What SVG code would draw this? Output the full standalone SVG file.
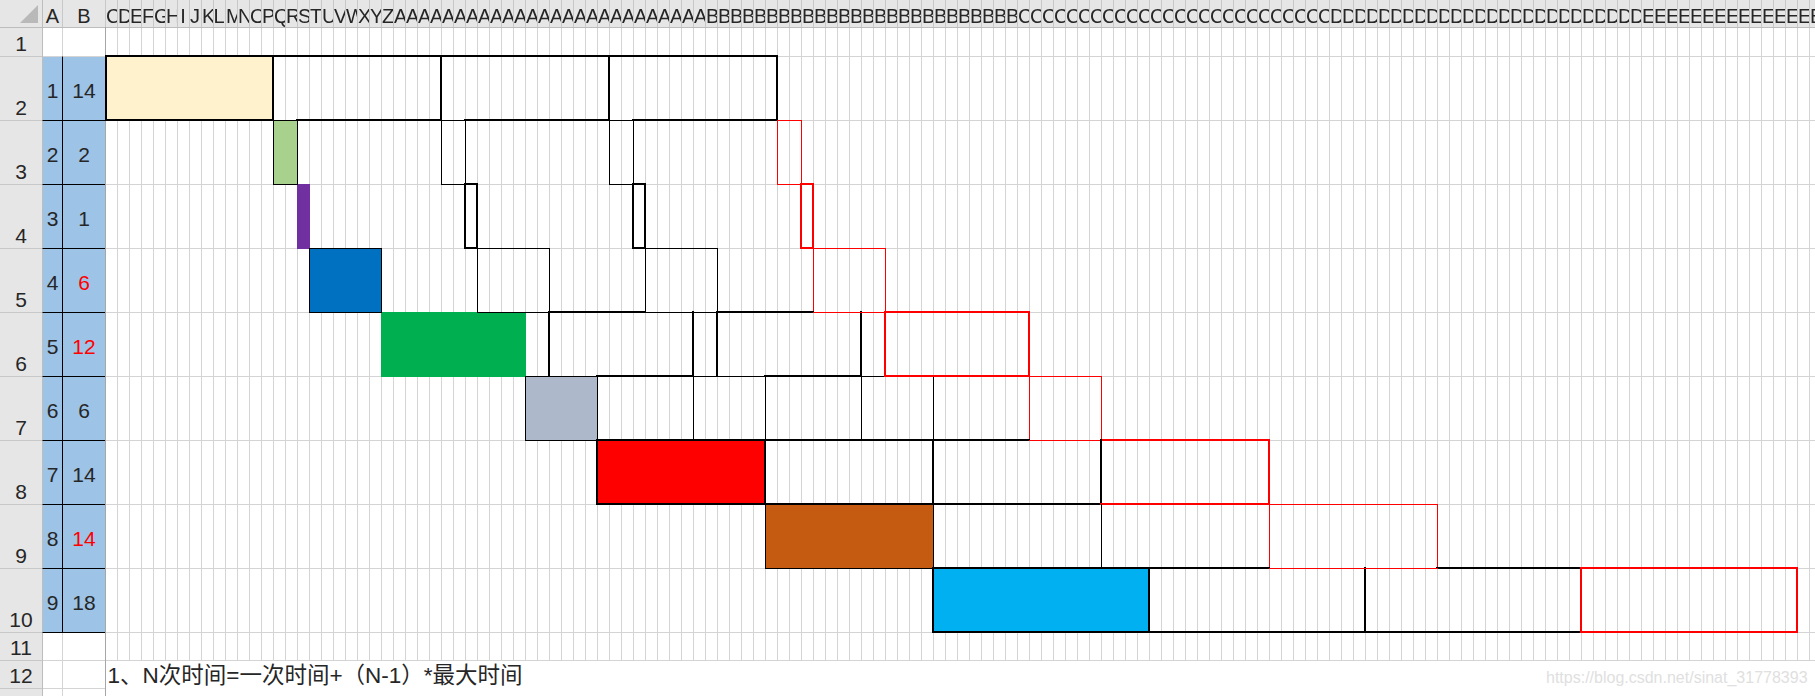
<svg xmlns="http://www.w3.org/2000/svg" width="1815" height="696" viewBox="0 0 1815 696">
<style>
.hd{font-family:"Liberation Sans",Arial,sans-serif;font-size:20px;fill:#262626}
.num{font-family:"Liberation Sans",Arial,sans-serif;font-size:21px;fill:#262626;text-anchor:middle}
.red{fill:#FF0000}
.tk{stroke:#000;stroke-width:2;fill:none;stroke-linecap:square}
.tn{stroke:#000;stroke-width:1;fill:none;stroke-linecap:square}
.rk{stroke:#F00;stroke-width:2;fill:none;stroke-linecap:square}
.rn{stroke:#F00;stroke-width:1;fill:none;stroke-linecap:square}
.grid{stroke:#D4D4D4;stroke-width:1;fill:none}
.hsep{stroke:#C8C8C8;stroke-width:1;fill:none}
.hbord{stroke:#BDBDBD;stroke-width:1;fill:none}
</style>
<defs>
<pattern id="vg" x="105" y="0" width="12" height="8" patternUnits="userSpaceOnUse"><rect width="1" height="8" fill="#D4D4D4"/></pattern>
<pattern id="hs" x="105" y="0" width="12" height="27" patternUnits="userSpaceOnUse"><rect width="1" height="27" fill="#C8C8C8"/></pattern>
<pattern id="pe" x="105" y="0" width="24" height="27" patternUnits="userSpaceOnUse"><rect width="12" height="27" fill="#fff"/></pattern>
<pattern id="po" x="117" y="0" width="24" height="27" patternUnits="userSpaceOnUse"><rect width="12" height="27" fill="#fff"/></pattern>
<mask id="me" maskUnits="userSpaceOnUse" x="0" y="0" width="1815" height="27"><rect x="105" y="0" width="1710" height="27" fill="url(#pe)"/></mask>
<mask id="mo" maskUnits="userSpaceOnUse" x="0" y="0" width="1815" height="27"><rect x="105" y="0" width="1710" height="27" fill="url(#po)"/></mask>
</defs>

<rect width="1815" height="696" fill="#FFFFFF"/>

<g id="sheet-grid">
<rect x="105" y="28" width="1710" height="633" fill="url(#vg)"/>
<path class="grid" d="M105 56.5H1815M105 120.5H1815M105 184.5H1815M105 248.5H1815M105 312.5H1815M105 376.5H1815M105 440.5H1815M105 504.5H1815M105 568.5H1815M105 632.5H1815M105 660.5H1815"/>
<path class="grid" d="M62.5 27V696M42 56.5H105M42 660.5H105M42 688.5H105"/>
</g>

<g id="headers">
<rect x="0" y="0" width="1815" height="27" fill="#E6E6E6"/>
<rect x="0" y="0" width="42" height="696" fill="#E6E6E6"/>
<rect x="105" y="0" width="1710" height="27" fill="url(#hs)"/>
<path class="hsep" d="M62.5 0V27M0 56.5H42M0 120.5H42M0 184.5H42M0 248.5H42M0 312.5H42M0 376.5H42M0 440.5H42M0 504.5H42M0 568.5H42M0 632.5H42M0 660.5H42M0 688.5H42"/>
<path class="hbord" d="M0 27.5H1815M42.5 0V696"/>
<polygon points="20,23 38,23 38,5" fill="#B9B9B9"/>
<text class="hd" x="52.5" y="22.5" text-anchor="middle">A</text>
<text class="hd" x="84" y="22.5" text-anchor="middle">B</text>
<text class="hd" mask="url(#me)" y="22.5" x="106 130 154 180.2 202 226 250 274 298 322 346 370 394 418 442 466 490 514 538 562 586 610 634 658 682 706 730 754 778 802 826 850 874 898 922 946 970 994 1018 1042 1066 1090 1114 1138 1162 1186 1210 1234 1258 1282 1306 1330 1354 1378 1402 1426 1450 1474 1498 1522 1546 1570 1594 1618 1642 1666 1690 1714 1738 1762 1786 1810">CEGIKMOQSUWYAAAAAAAAAAAAABBBBBBBBBBBBBCCCCCCCCCCCCCDDDDDDDDDDDDDEEEEEEEE</text>
<text class="hd" mask="url(#mo)" y="22.5" x="118 142 166 190 213.5 238 262 286 310 334 358 382 406 430 454 478 502 526 550 574 598 622 646 670 694 718 742 766 790 814 838 862 886 910 934 958 982 1006 1030 1054 1078 1102 1126 1150 1174 1198 1222 1246 1270 1294 1318 1342 1366 1390 1414 1438 1462 1486 1510 1534 1558 1582 1606 1630 1654 1678 1702 1726 1750 1774 1798">DFHJLNPRTVXZAAAAAAAAAAAAABBBBBBBBBBBBBCCCCCCCCCCCCCDDDDDDDDDDDDDEEEEEEE</text>
<text class="num" x="21" y="50.5">1</text>
<text class="num" x="21" y="114.5">2</text>
<text class="num" x="21" y="178.5">3</text>
<text class="num" x="21" y="242.5">4</text>
<text class="num" x="21" y="306.5">5</text>
<text class="num" x="21" y="370.5">6</text>
<text class="num" x="21" y="434.5">7</text>
<text class="num" x="21" y="498.5">8</text>
<text class="num" x="21" y="562.5">9</text>
<text class="num" x="21" y="626.5">10</text>
<text class="num" x="21" y="655">11</text>
<text class="num" x="21" y="683">12</text>
</g>

<g id="table-ab">
<rect x="43" y="57" width="62" height="576" fill="#9DC3E6"/>
<path class="tn" d="M62.5 57V632.5M43 120.5H104.5M43 184.5H104.5M43 248.5H104.5M43 312.5H104.5M43 376.5H104.5M43 440.5H104.5M43 504.5H104.5M43 568.5H104.5M43 632.5H104.5"/>
<text class="num" x="52.5" y="98">1</text><text class="num" x="84" y="98">14</text>
<text class="num" x="52.5" y="162">2</text><text class="num" x="84" y="162">2</text>
<text class="num" x="52.5" y="226">3</text><text class="num" x="84" y="226">1</text>
<text class="num" x="52.5" y="290">4</text><text class="num red" x="84" y="290">6</text>
<text class="num" x="52.5" y="354">5</text><text class="num red" x="84" y="354">12</text>
<text class="num" x="52.5" y="418">6</text><text class="num" x="84" y="418">6</text>
<text class="num" x="52.5" y="482">7</text><text class="num" x="84" y="482">14</text>
<text class="num" x="52.5" y="546">8</text><text class="num red" x="84" y="546">14</text>
<text class="num" x="52.5" y="610">9</text><text class="num" x="84" y="610">18</text>
</g>

<path d="M105.5 27V696" stroke="#A6A6A6" stroke-width="1"/>

<g id="task1">
<rect x="105" y="56" width="168" height="64" fill="#FFF2CC"/>
<path class="tk" d="M106 56H777M106 56V120M273 56V120M441 56V120M609 56V120M777 56V120"/>
</g>

<g id="task2">
<rect x="273" y="120" width="25" height="65" fill="#A9D18E"/>
<path class="tk" d="M106 120H273M297 120H441M465 120H609M633 120H777"/>
<path class="tn" d="M273.5 120.5H297.5M441.5 120.5H465.5M609.5 120.5H633.5M273.5 120.5V184.5M297.5 120.5V184.5M441.5 120.5V184.5M465.5 120.5V184.5M609.5 120.5V184.5M633.5 120.5V184.5"/>
<path class="rn" d="M777.5 120.5H801.5M777.5 120.5V184.5M801.5 120.5V184.5"/>
</g>

<g id="task3">
<rect x="297" y="184" width="13" height="65" fill="#7030A0"/>
<path class="tn" d="M273.5 184.5H297.5M441.5 184.5H465.5M609.5 184.5H633.5"/>
<path class="tk" d="M465 184H477M633 184H645M465 184V248M477 184V248M633 184V248M645 184V248"/>
<path class="rn" d="M777.5 184.5H801.5"/>
<path class="rk" d="M801 184H813M801 184V248M813 184V248"/>
</g>

<g id="task4">
<rect x="309" y="248" width="73" height="65" fill="#0070C0"/>
<path class="tk" d="M465 248H477M633 248H645"/>
<path class="rk" d="M801 248H813"/>
<path class="tn" d="M309.5 248.5H381.5M477.5 248.5H549.5M645.5 248.5H717.5M309.5 248.5V312.5M381.5 248.5V312.5M477.5 248.5V312.5M549.5 248.5V312.5M645.5 248.5V312.5M717.5 248.5V312.5"/>
<path class="rn" d="M813.5 248.5H885.5M813.5 248.5V312.5M885.5 248.5V312.5"/>
</g>

<g id="task5">
<rect x="381" y="312" width="145" height="65" fill="#00B050"/>
<path class="tk" d="M549 312H645M717 312H813M549 312V376M693 312V376M717 312V376M861 312V376"/>
<path class="tn" d="M309.5 312.5H381.5M477.5 312.5H549.5M645.5 312.5H717.5"/>
<path class="rn" d="M813.5 312.5H885.5"/>
<path class="rk" d="M885 312H1029M885 312V376M1029 312V376"/>
</g>

<g id="task6">
<rect x="525" y="376" width="73" height="65" fill="#ADB9CA"/>
<path class="tk" d="M597 376H693M765 376H861"/>
<path class="tn" d="M525.5 376.5H597.5M693.5 376.5H765.5M861.5 376.5H885.5M525.5 376.5V440.5M597.5 376.5V440.5M693.5 376.5V440.5M765.5 376.5V440.5M861.5 376.5V440.5M933.5 376.5V440.5"/>
<path class="rk" d="M885 376H1029"/>
<path class="rn" d="M1029.5 376.5H1101.5M1029.5 376.5V440.5M1101.5 376.5V440.5"/>
</g>

<g id="task7">
<rect x="597" y="440" width="169" height="65" fill="#FF0000"/>
<path class="tn" d="M525.5 440.5H597.5"/>
<path class="tk" d="M597 440H1029"/>
<path class="rn" d="M1029.5 440.5H1101.5"/>
<path class="rk" d="M1101 440H1269M1269 440V504"/>
<path class="tk" d="M597 440V504M765 440V504M933 440V504M1101 440V504"/>
</g>

<g id="task8">
<rect x="765" y="504" width="169" height="65" fill="#C55A11"/>
<path class="tk" d="M597 504H1101"/>
<path class="rk" d="M1101 504H1269"/>
<path class="tn" d="M765.5 504.5V568.5M933.5 504.5V568.5M1101.5 504.5V568.5"/>
<path class="rn" d="M1269.5 504.5H1437.5M1269.5 504.5V568.5M1437.5 504.5V568.5"/>
</g>

<g id="task9">
<rect x="933" y="568" width="217" height="65" fill="#00B0F0"/>
<path class="tn" d="M765.5 568.5H933.5"/>
<path class="tk" d="M933 568H1269M1437 568H1581M933 632H1581M933 568V632M1149 568V632M1365 568V632"/>
<path class="rn" d="M1269.5 568.5H1437.5"/>
<path class="rk" d="M1581 568H1797M1581 632H1797M1581 568V632M1797 568V632"/>
</g>

<g id="connectors"></g>

<g id="note">
<text x="107.5" y="683" style="font-family:'Liberation Sans','Noto Sans CJK SC',sans-serif;font-size:22.5px;fill:#262626">1、N次时间=一次时间+（N-1）*最大时间</text>
</g>
<text x="1546" y="683" style="font-family:'Liberation Sans',Arial,sans-serif;font-size:16px;fill:#E0E0E0">https://blog.csdn.net/sinat_31778393</text>
</svg>
